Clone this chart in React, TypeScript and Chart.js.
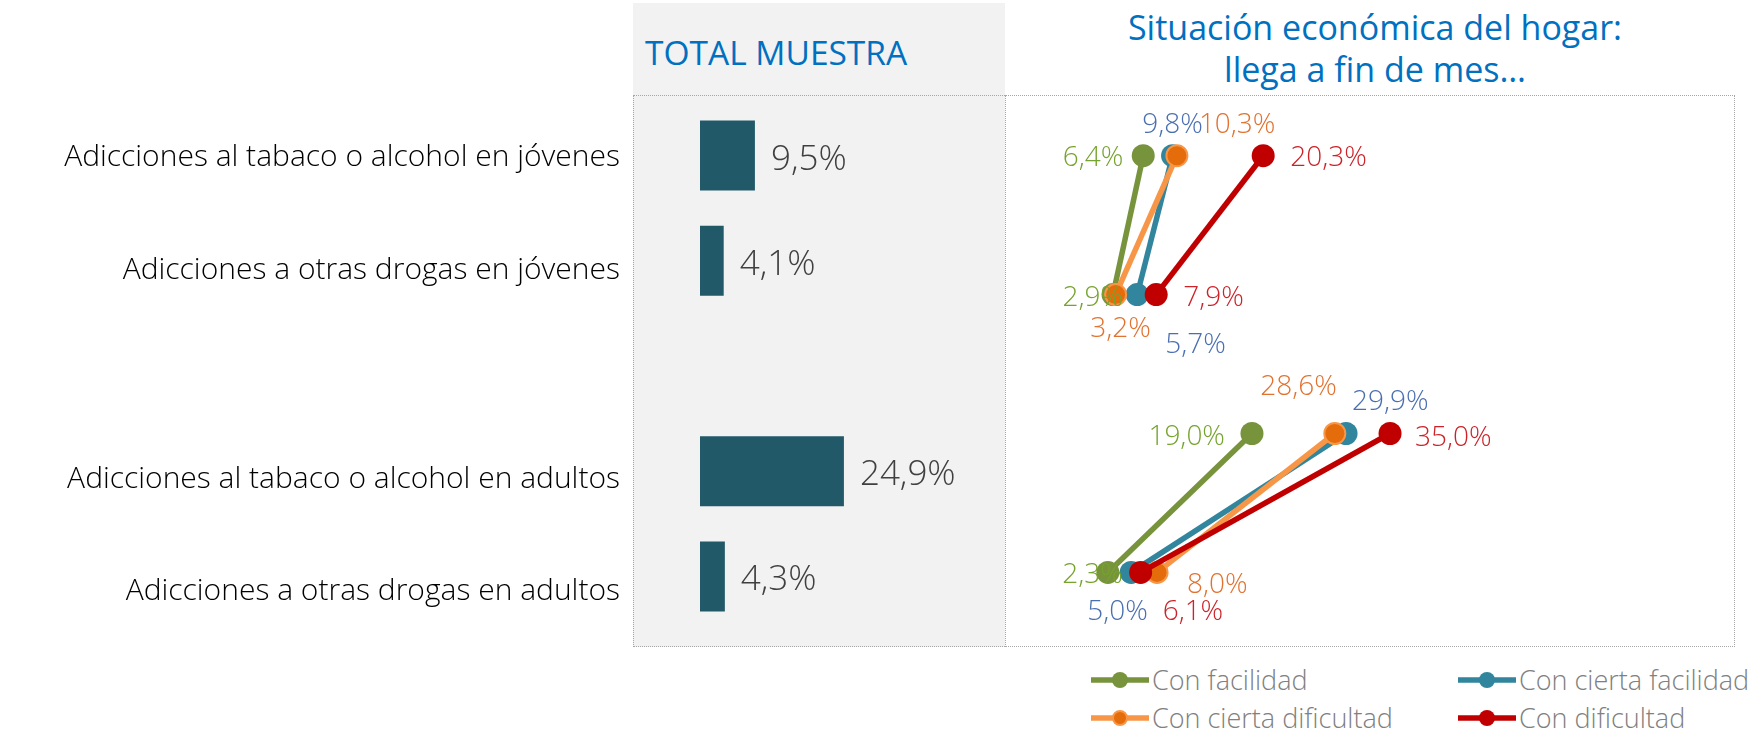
import React, { useEffect, useRef } from 'react';
import { Chart, registerables } from 'chart.js';

Chart.register(...registerables);

// ---------- DATA ----------
const categories = [
  'Adicciones al tabaco o alcohol en jóvenes',
  'Adicciones a otras drogas en jóvenes',
  '',
  'Adicciones al tabaco o alcohol en adultos',
  'Adicciones a otras drogas en adultos',
];
const totalValues: (number | null)[] = [9.5, 4.1, null, 24.9, 4.3];

const seriesNames = ['Con facilidad', 'Con cierta facilidad', 'Con cierta dificultad', 'Con dificultad'];
const jovenesTabaco = [6.4, 9.8, 10.3, 20.3];
const jovenesDrogas = [2.9, 5.7, 3.2, 7.9];
const adultosTabaco = [19.0, 29.9, 28.6, 35.0];
const adultosDrogas = [2.3, 5.0, 8.0, 6.1];

const leftTitle = 'TOTAL MUESTRA';
const rightTitle = ['Situación económica del hogar:', 'llega a fin de mes…'];

// ---------- STYLES ----------
const FONT = "'Open Sans', 'Noto Sans', sans-serif";
const barColor = '#215968';
const lineColors = ['#77933C', '#31859C', '#F79646', '#C00000'];
const dotColors = ['#77933C', '#31859C', '#E46C0A', '#C00000'];
const dotBorderColors = ['#77933C', '#31859C', '#F79646', '#C00000'];
const dotBorderWidths = [0, 0, 2, 0];
const labelColors = ['#76A32D', '#4A6FB1', '#E2722F', '#CC2229'];
// vertical offset of each category label from its bar centre
const categoryLabelOffsets = [2, 10, 0, 8, 15];
// label placement per row (jóv tabaco, jóv drogas, adu tabaco, adu drogas) per series: [dx, dy, align]
const labelPlacement: [number, number, CanvasTextAlign][][] = [
  [[-20, 2, 'right'], [0, -31, 'center'], [22, -31, 'left'], [27, 2, 'left']],
  [[10, 3, 'right'], [28, 50, 'left'], [5, 34, 'center'], [27, 3, 'left']],
  [[-27, 4, 'right'], [6, -31, 'left'], [2, -46, 'right'], [25, 5, 'left']],
  [[15, 3, 'right'], [-13.5, 40, 'center'], [30, 13, 'left'], [22, 40, 'left']],
];

const fmt = (v: number) => v.toFixed(1).replace('.', ',') + '%';

// ---------- LAYOUT ----------
const BAR_CANVAS = { left: 0, top: 103, width: 1005, height: 526 };
const DOT_CANVAS = { left: 1005, top: 95, width: 730, height: 552 };

const barLabelsPlugin = {
  id: 'barLabels',
  afterDatasetsDraw(chart: any) {
    const ctx = chart.ctx;
    const meta = chart.getDatasetMeta(0);
    const yScale = chart.scales.y;
    ctx.save();
    // category labels
    ctx.font = `300 30px ${FONT}`;
    ctx.fillStyle = '#000000';
    ctx.textAlign = 'right';
    ctx.textBaseline = 'middle';
    chart.data.labels.forEach((lab: string, i: number) => {
      if (!lab) return;
      ctx.fillText(lab, yScale.right - 80, yScale.getPixelForTick(i) + categoryLabelOffsets[i]);
    });
    // value labels
    ctx.font = `300 35px ${FONT}`;
    ctx.fillStyle = '#404040';
    ctx.textAlign = 'left';
    meta.data.forEach((bar: any, i: number) => {
      const v = chart.data.datasets[0].data[i];
      if (v == null) return;
      ctx.fillText(fmt(v), bar.x + 16, bar.y + 4);
    });
    ctx.restore();
  },
};

const dotLabelsPlugin = {
  id: 'dotLabels',
  afterDatasetsDraw(chart: any) {
    const ctx = chart.ctx;
    ctx.save();
    ctx.font = `300 28px ${FONT}`;
    ctx.textBaseline = 'middle';
    chart.data.datasets.forEach((ds: any, di: number) => {
      const meta = chart.getDatasetMeta(di);
      meta.data.forEach((pt: any, j: number) => {
        const row = ds._group * 2 + j;
        const [dx, dy, align] = labelPlacement[row][ds._series];
        ctx.fillStyle = labelColors[ds._series];
        ctx.textAlign = align;
        ctx.fillText(fmt(ds.data[j].x), pt.x + dx, pt.y + dy);
      });
    });
    ctx.restore();
  },
};

function BarChart() {
  const ref = useRef<HTMLCanvasElement>(null);
  useEffect(() => {
    const chart = new Chart(ref.current as HTMLCanvasElement, {
      type: 'bar',
      data: {
        labels: categories,
        datasets: [
          {
            data: totalValues as any,
            backgroundColor: barColor,
            barPercentage: 0.665,
            categoryPercentage: 1,
          },
        ],
      },
      options: {
        indexAxis: 'y',
        animation: false,
        responsive: false,
        layout: { padding: 0, autoPadding: false },
        plugins: { legend: { display: false }, tooltip: { enabled: false } },
        scales: {
          x: { display: false, min: 0, max: 52.77 },
          y: {
            type: 'category',
            position: 'left',
            grid: { display: false, drawTicks: false },
            border: { display: false },
            ticks: { display: false },
            afterFit: (s: any) => {
              s.width = 700;
              s.paddingTop = 0;
              s.paddingBottom = 0;
            },
          },
        },
      } as any,
      plugins: [barLabelsPlugin],
    });
    return () => chart.destroy();
  }, []);
  return (
    <canvas
      ref={ref}
      width={BAR_CANVAS.width}
      height={BAR_CANVAS.height}
      style={{ position: 'absolute', left: BAR_CANVAS.left, top: BAR_CANVAS.top, width: BAR_CANVAS.width, height: BAR_CANVAS.height }}
    />
  );
}

function DumbbellChart() {
  const ref = useRef<HTMLCanvasElement>(null);
  useEffect(() => {
    const groups = [
      [jovenesTabaco, jovenesDrogas],
      [adultosTabaco, adultosDrogas],
    ];
    const datasets: any[] = [];
    for (let s = 0; s < seriesNames.length; s++) {
      for (let g = 0; g < groups.length; g++) {
        datasets.push({
          label: seriesNames[s],
          _series: s,
          _group: g,
          data: [
            { x: groups[g][0][s], y: g * 2 },
            { x: groups[g][1][s], y: g * 2 + 1 },
          ],
          borderColor: lineColors[s],
          backgroundColor: dotColors[s],
          borderWidth: 5.5,
          pointRadius: 11.5 - dotBorderWidths[s] / 2,
          pointBackgroundColor: dotColors[s],
          pointBorderColor: dotBorderColors[s],
          pointBorderWidth: dotBorderWidths[s],
          tension: 0,
          order: 3 - s,
          clip: false,
        });
      }
    }
    const pxPerUnit = 8.63;
    const zeroPx = 83;
    const rowTop = 60.7;
    const rowStep = 138.9;
    const chart = new Chart(ref.current as HTMLCanvasElement, {
      type: 'line',
      data: { datasets },
      options: {
        animation: false,
        responsive: false,
        layout: { padding: 0, autoPadding: false },
        plugins: { legend: { display: false }, tooltip: { enabled: false } },
        scales: {
          x: { type: 'linear', display: false, min: -zeroPx / pxPerUnit, max: (DOT_CANVAS.width - zeroPx) / pxPerUnit },
          y: {
            type: 'linear',
            display: false,
            reverse: true,
            min: -rowTop / rowStep,
            max: (DOT_CANVAS.height - rowTop) / rowStep,
          },
        },
      } as any,
      plugins: [dotLabelsPlugin],
    });
    return () => chart.destroy();
  }, []);
  return (
    <canvas
      ref={ref}
      width={DOT_CANVAS.width}
      height={DOT_CANVAS.height}
      style={{ position: 'absolute', left: DOT_CANVAS.left, top: DOT_CANVAS.top, width: DOT_CANVAS.width, height: DOT_CANVAS.height }}
    />
  );
}

function LegendItem({ s, left, top }: { s: number; left: number; top: number }) {
  return (
    <div style={{ position: 'absolute', left, top: top - 19, height: 38, display: 'flex', alignItems: 'center', whiteSpace: 'nowrap' }}>
      <svg width={58} height={20} style={{ display: 'block' }}>
        <line x1={1} y1={10} x2={57} y2={10} stroke={lineColors[s]} strokeWidth={5.5} strokeLinecap="round" />
        <circle cx={29} cy={10} r={dotBorderWidths[s] ? 7 : 8} fill={dotColors[s]} stroke={dotBorderColors[s]} strokeWidth={dotBorderWidths[s]} />
      </svg>
      <span style={{ fontFamily: FONT, fontWeight: 300, fontSize: 27, color: '#808080', marginLeft: 3, lineHeight: '38px' }}>
        {seriesNames[s]}
      </span>
    </div>
  );
}

export default function App() {
  const dotted = '1px dotted #A6A6A6';
  return (
    <div style={{ position: 'absolute', left: 0, top: 0, width: 1751, height: 732, background: '#FFFFFF', overflow: 'hidden' }}>
      {/* gray panel */}
      <div style={{ position: 'absolute', left: 633, top: 3, width: 372, height: 644, background: '#F2F2F2' }} />
      {/* frame */}
      <div style={{ position: 'absolute', left: 633, top: 95, width: 1102, height: 552, border: dotted, boxSizing: 'border-box' }} />
      <div style={{ position: 'absolute', left: 1005, top: 95, width: 0, height: 552, borderLeft: dotted }} />
      {/* titles */}
      <div style={{ position: 'absolute', left: 645, top: 35.5, fontFamily: FONT, fontSize: 33.5, lineHeight: '33.5px', color: '#0070C0', whiteSpace: 'nowrap' }}>
        {leftTitle}
      </div>
      <div style={{ position: 'absolute', left: 1075, width: 600, top: 7, fontFamily: FONT, fontSize: 34, lineHeight: '41.5px', color: '#0070C0', textAlign: 'center', whiteSpace: 'nowrap' }}>
        {rightTitle.map((t, i) => (
          <div key={i}>{t}</div>
        ))}
      </div>
      <BarChart />
      <DumbbellChart />
      <LegendItem s={0} left={1091} top={680} />
      <LegendItem s={1} left={1458} top={680} />
      <LegendItem s={2} left={1091} top={718} />
      <LegendItem s={3} left={1458} top={718} />
    </div>
  );
}
